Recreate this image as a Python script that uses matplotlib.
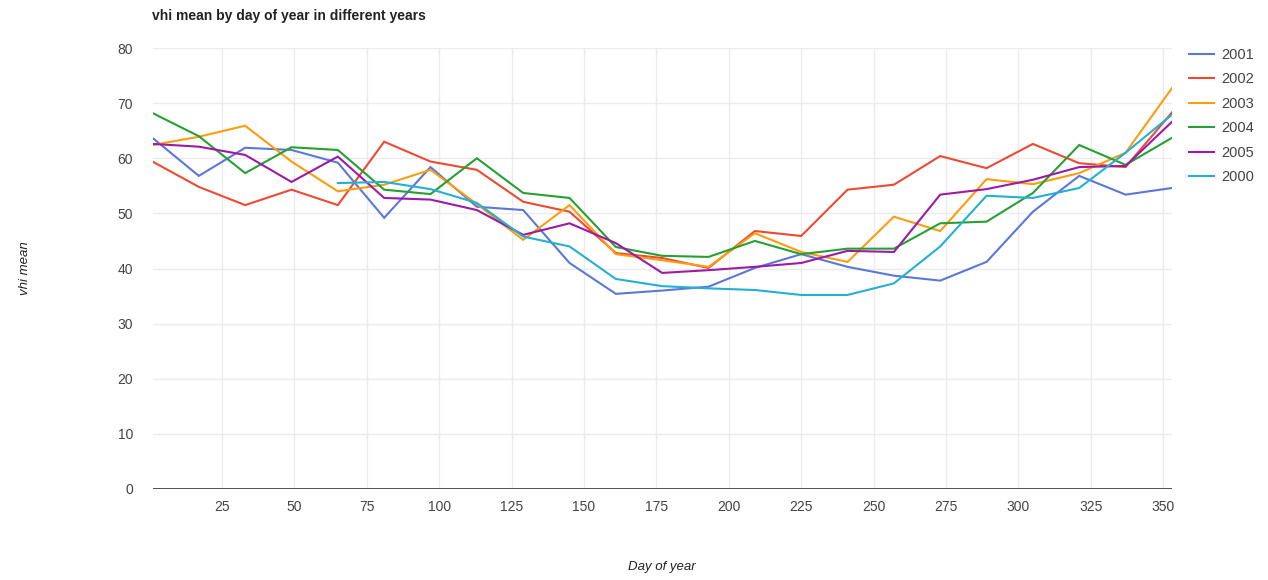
import matplotlib
matplotlib.use("Agg")
import matplotlib.pyplot as plt

plt.rcParams['font.family'] = ['Liberation Sans', 'DejaVu Sans']

days = [1, 17, 33, 49, 65, 81, 97, 113, 129, 145, 161, 177, 193, 209, 225, 241, 257, 273, 289, 305, 321, 337, 353]
days_2000 = days[4:]

vhi_2001 = [63.7, 56.8, 61.9, 61.5, 59.2, 49.2, 58.4, 51.2, 50.6, 41.0, 35.4, 36.0, 36.7, 40.1, 42.6, 40.3, 38.7, 37.8, 41.2, 50.3, 56.8, 53.4, 54.6]
vhi_2002 = [59.4, 54.8, 51.5, 54.3, 51.5, 63.0, 59.4, 57.9, 52.1, 50.3, 42.8, 41.9, 40.1, 46.8, 45.9, 54.3, 55.2, 60.4, 58.2, 62.6, 59.1, 58.4, 68.3]
vhi_2003 = [62.4, 63.9, 65.9, 59.4, 54.0, 55.2, 57.9, 51.7, 45.2, 51.5, 42.6, 41.5, 40.3, 46.4, 43.0, 41.2, 49.4, 46.8, 56.2, 55.3, 57.3, 61.0, 72.7]
vhi_2004 = [68.2, 64.0, 57.3, 62.0, 61.5, 54.3, 53.5, 60.0, 53.7, 52.8, 43.9, 42.3, 42.1, 45.0, 42.6, 43.6, 43.6, 48.2, 48.5, 53.7, 62.4, 58.8, 63.7]
vhi_2005 = [62.6, 62.1, 60.6, 55.7, 60.3, 52.8, 52.5, 50.6, 46.1, 48.2, 44.6, 39.2, 39.7, 40.3, 41.0, 43.2, 43.0, 53.4, 54.4, 56.1, 58.4, 58.6, 66.6]
vhi_2000 = [55.5, 55.7, 54.4, 51.9, 45.8, 44.0, 38.1, 36.8, 36.4, 36.1, 35.2, 35.2, 37.3, 44.0, 53.2, 52.8, 54.6, 61.0, 67.9]

series = [
    ("2001", days, vhi_2001, "#5b78d8"),
    ("2002", days, vhi_2002, "#ee4a33"),
    ("2003", days, vhi_2003, "#fb9d0c"),
    ("2004", days, vhi_2004, "#25a032"),
    ("2005", days, vhi_2005, "#9c1ba6"),
    ("2000", days_2000, vhi_2000, "#23b0d3"),
]

yticks = [0, 10, 20, 30, 40, 50, 60, 70, 80]
xticks = [25, 50, 75, 100, 125, 150, 175, 200, 225, 250, 275, 300, 325, 350]

fig = plt.figure(figsize=(12.68, 5.8), dpi=100)
ax = fig.add_axes([152.5 / 1268, 1 - 489 / 580, (1171.9 - 152.5) / 1268, (489 - 48) / 580])

for label, x, y, c in series:
    ax.plot(x, y, color=c, lw=1.5, label=label, solid_joinstyle='miter')

ax.set_xlim(1, 353)
ax.set_ylim(0, 80)
ax.set_yticks(yticks)
ax.set_xticks(xticks)
ax.grid(True, color="#ebebeb", lw=1)
ax.set_axisbelow(True)
for s in ax.spines.values():
    s.set_visible(False)
ax.axhline(0, color="#444444", lw=1.3, zorder=1)
ax.tick_params(length=0, labelsize=10, labelcolor="#444444")
ax.tick_params(axis='y', pad=14)
ax.tick_params(axis='x', pad=8)

ax.set_title("vhi mean by day of year in different years", loc='left', fontsize=10,
             fontweight='bold', color="#222222", pad=20, x=0)
ax.set_xlabel("Day of year", fontsize=9.5, style='italic', color="#222222", labelpad=34)
ax.set_ylabel("vhi mean", fontsize=9.5, style='italic', color="#222222", labelpad=62)

leg = ax.legend(loc='upper left', bbox_to_anchor=(1.004, 1.03), frameon=False,
                fontsize=10.5, handlelength=1.7, handletextpad=0.5, labelspacing=0.72,
                labelcolor="#444444")

fig.savefig("out.png", dpi=100)
